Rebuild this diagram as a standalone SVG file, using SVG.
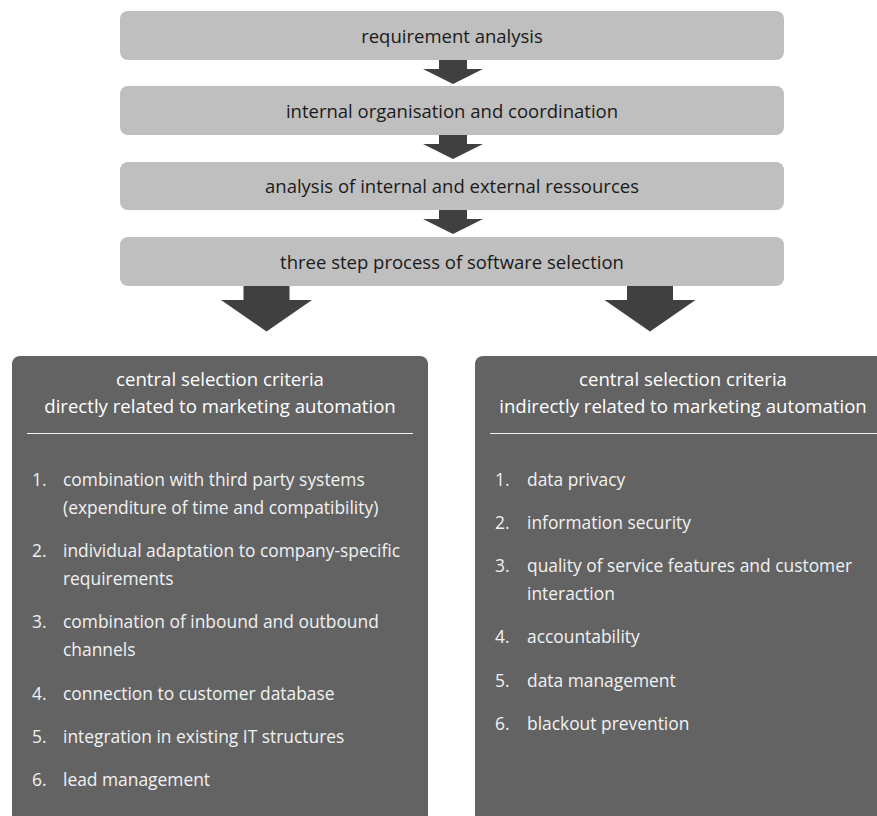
<svg xmlns="http://www.w3.org/2000/svg" width="877" height="816" viewBox="0 0 877 816">
  <style>
    .step { fill: #bfbfbf; }
    .step-label { font-family: "Open Sans", "Noto Sans", "Liberation Sans", sans-serif; font-size: 18.5px; fill: #1a1a1a; text-anchor: middle; }
    .panel { fill: #636363; }
    .panel-head { font-family: "Open Sans", "Noto Sans", "Liberation Sans", sans-serif; font-size: 18.6px; fill: #ffffff; text-anchor: middle; }
    .item { font-family: "Open Sans", "Noto Sans", "Liberation Sans", sans-serif; font-size: 17.4px; fill: #f2f2f2; }
    .rule { stroke: #f2f2f2; stroke-width: 1.2; }
    .arrow { fill: #404040; }
  </style>

  <rect width="877" height="816" fill="#ffffff"/>

  <!-- process steps -->
  <g id="step-requirement-analysis">
    <rect class="step" x="120" y="11" width="664" height="49" rx="8"/>
    <text class="step-label" x="452" y="42.5">requirement analysis</text>
  </g>
  <g id="step-internal-organisation">
    <rect class="step" x="120" y="86" width="664" height="49" rx="8"/>
    <text class="step-label" x="452" y="117.5">internal organisation and coordination</text>
  </g>
  <g id="step-resources">
    <rect class="step" x="120" y="162" width="664" height="48" rx="8"/>
    <text class="step-label" x="452" y="193">analysis of internal and external ressources</text>
  </g>
  <g id="step-software-selection">
    <rect class="step" x="120" y="237" width="664" height="49" rx="8"/>
    <text class="step-label" x="452" y="268.5">three step process of software selection</text>
  </g>

  <!-- block arrows between steps and into the criteria panels -->
  <g id="connectors">
    <polygon class="arrow" points="439,60 467,60 467,69 483,69 453,84 423,69 439,69"/>
    <polygon class="arrow" points="439,135 467,135 467,144 483,144 453,159 423,144 439,144"/>
    <polygon class="arrow" points="439,210 467,210 467,219 483,219 453,234 423,219 439,219"/>
    <polygon class="arrow" points="243.5,286 289.5,286 289.5,300 312,300 266.5,331.5 221,300 243.5,300"/>
    <polygon class="arrow" points="627,286 673,286 673,300 695.5,300 650,331.5 604.5,300 627,300"/>
  </g>

  <!-- criteria directly related -->
  <g id="panel-direct">
    <rect class="panel" x="12" y="356" width="416" height="470" rx="8"/>
    <text class="panel-head" x="220" y="386">central selection criteria</text>
    <text class="panel-head" x="220" y="413">directly related to marketing automation</text>
    <line class="rule" x1="27" y1="433.5" x2="413" y2="433.5"/>
    <g class="item">
      <text x="32" y="486">1.</text>
      <text x="63" y="486">combination with third party systems</text>
      <text x="63" y="514">(expenditure of time and compatibility)</text>
      <text x="32" y="557">2.</text>
      <text x="63" y="557">individual adaptation to company-specific</text>
      <text x="63" y="585">requirements</text>
      <text x="32" y="628">3.</text>
      <text x="63" y="628">combination of inbound and outbound</text>
      <text x="63" y="656">channels</text>
      <text x="32" y="700">4.</text>
      <text x="63" y="700">connection to customer database</text>
      <text x="32" y="743">5.</text>
      <text x="63" y="743">integration in existing IT structures</text>
      <text x="32" y="786">6.</text>
      <text x="63" y="786">lead management</text>
    </g>
  </g>

  <!-- criteria indirectly related -->
  <g id="panel-indirect">
    <rect class="panel" x="475" y="356" width="416" height="470" rx="8"/>
    <text class="panel-head" x="683" y="386">central selection criteria</text>
    <text class="panel-head" x="683" y="413">indirectly related to marketing automation</text>
    <line class="rule" x1="490" y1="433.5" x2="877" y2="433.5"/>
    <g class="item">
      <text x="495" y="486">1.</text>
      <text x="527" y="486">data privacy</text>
      <text x="495" y="529">2.</text>
      <text x="527" y="529">information security</text>
      <text x="495" y="572">3.</text>
      <text x="527" y="572">quality of service features and customer</text>
      <text x="527" y="600">interaction</text>
      <text x="495" y="643">4.</text>
      <text x="527" y="643">accountability</text>
      <text x="495" y="687">5.</text>
      <text x="527" y="687">data management</text>
      <text x="495" y="730">6.</text>
      <text x="527" y="730">blackout prevention</text>
    </g>
  </g>
</svg>
